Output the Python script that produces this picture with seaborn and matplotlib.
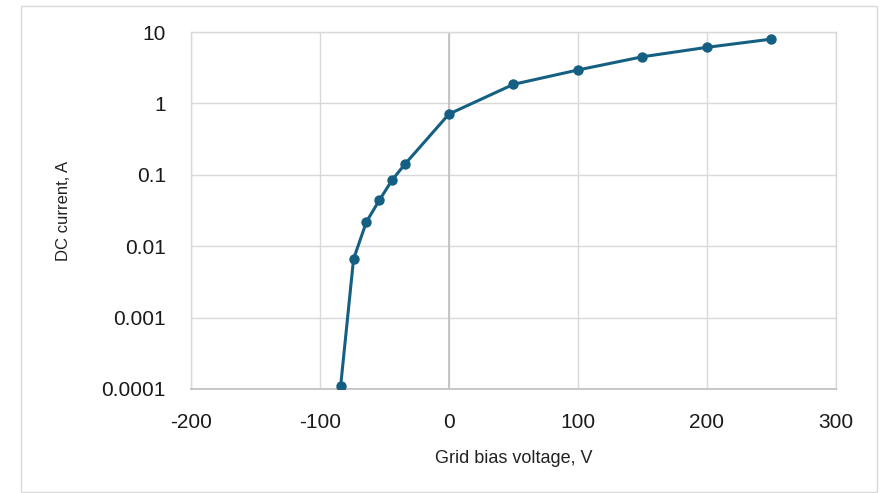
#!/usr/bin/env python3

import numpy as np
import pandas as pd
import matplotlib
matplotlib.use("Agg")
import matplotlib.pyplot as plt
from matplotlib.ticker import FixedLocator, FuncFormatter
from matplotlib.patches import Rectangle
import seaborn as sns

# grid bias sweep
voltage = [-84, -74, -64, -54, -44, -34, 0, 50, 100, 150, 200, 250]
current = [0.00011, 0.0066, 0.022, 0.044, 0.085, 0.142, 0.71, 1.85, 2.94, 4.5, 6.1, 7.95]

x_ticks = [-200, -100, 0, 100, 200, 300]
y_ticks = [0.0001, 0.001, 0.01, 0.1, 1, 10]

line_color = "#156082"
grid_color = "#d9d9d9"
axis_color = "#bfbfbf"

sns.set_style("white")
plt.rcParams['font.family'] = ['Liberation Sans', 'DejaVu Sans']

df = pd.DataFrame({"voltage": voltage, "current": current})

fig = plt.figure(figsize=(8.87, 4.93), dpi=100)
ax = fig.add_axes([191/887, 1-389/493, (836-191)/887, (389-32)/493])

# chart border like the excel chart area
fig.patches.append(Rectangle((21/887, 1-492/493), (877-21)/887, (492-6)/493,
                             transform=fig.transFigure, fill=False,
                             edgecolor=grid_color, linewidth=1))

sns.lineplot(data=df, x="voltage", y="current", ax=ax, sort=False,
             color=line_color, linewidth=2.2, marker="o", markersize=7.5,
             markeredgewidth=0, zorder=3)

ax.set_yscale("log")
ax.set_xlim(-200, 300)
ax.set_ylim(0.0001, 10)
ax.xaxis.set_major_locator(FixedLocator(x_ticks))
ax.yaxis.set_major_locator(FixedLocator(y_ticks))
ax.yaxis.set_minor_locator(FixedLocator([]))
ax.xaxis.set_major_formatter(FuncFormatter(lambda v, p: f"{v:g}"))
ax.yaxis.set_major_formatter(FuncFormatter(lambda v, p: f"{v:g}"))

ax.grid(True, color=grid_color, linewidth=1)
ax.axvline(0, color=axis_color, linewidth=1.2, zorder=2)
for s in ["left", "right", "top"]:
    ax.spines[s].set_color(grid_color)
    ax.spines[s].set_linewidth(1)
ax.spines["bottom"].set_color(axis_color)
ax.spines["bottom"].set_linewidth(1.2)

ax.tick_params(axis="both", length=0, labelsize=15, labelcolor="#1a1a1a")
ax.tick_params(axis="y", pad=18)
ax.tick_params(axis="x", pad=17)

ax.set_xlabel("Grid bias voltage, V", fontsize=13, color="#222222",
              family=["Liberation Sans Narrow", "Liberation Sans", "DejaVu Sans"],
              labelpad=13)
ax.set_ylabel("DC current, A", fontsize=12, color="#222222", labelpad=22)

fig.savefig("out.png", dpi=100)
